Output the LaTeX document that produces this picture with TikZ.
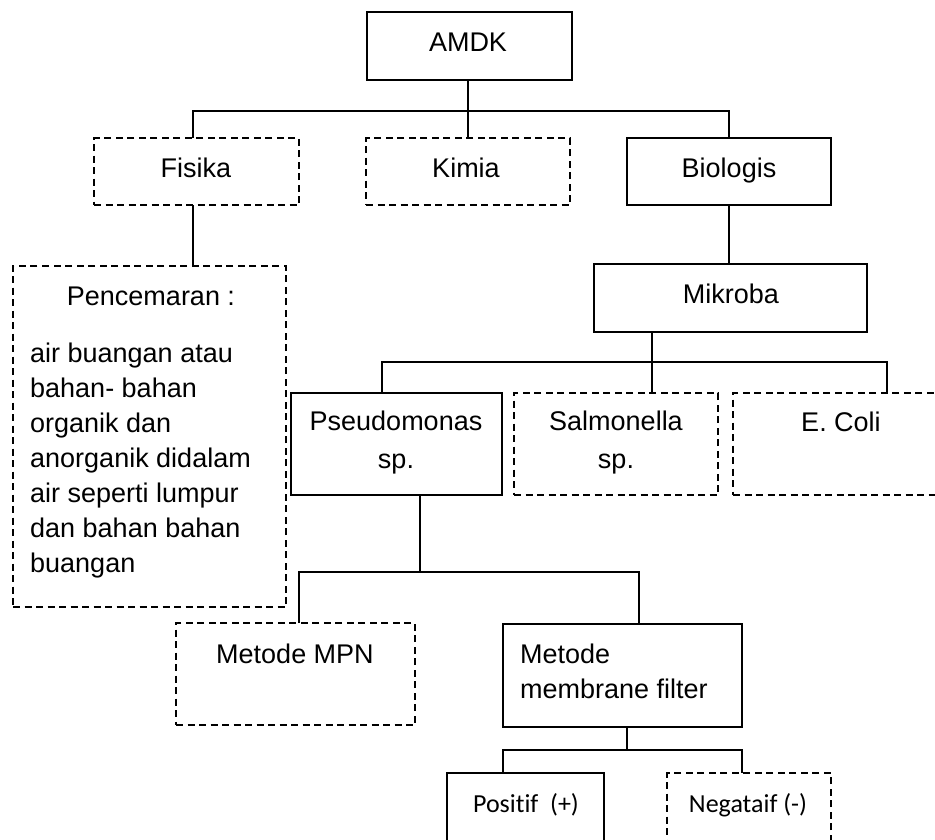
\documentclass[tikz,border=0pt]{standalone}
\usepackage{fontspec}
\setmainfont[Ligatures=NoCommon]{Liberation Sans}
\newfontfamily\calibrifont[Ligatures=NoCommon]{Carlito}
\begin{document}
\begin{tikzpicture}[x=1pt,y=-1pt,
  box/.style={draw, line width=1.5pt, rectangle, inner sep=0pt, outer sep=0pt, anchor=north west},
  dashbox/.style={box, dash pattern=on 7pt off 4.5pt},
  link/.style={draw, line width=1.5pt},
  txt/.style={anchor=base, inner sep=0pt, font=\fontsize{27}{35}\selectfont},
  txtl/.style={anchor=base west, inner sep=0pt, font=\fontsize{27}{35}\selectfont},
  ctxt/.style={anchor=base, inner sep=0pt, font=\calibrifont\fontsize{26}{32}\selectfont}]
\useasboundingbox (0,0) rectangle (935,839);
\clip (0,0) rectangle (935,839);

% boxes
\node[box, minimum width=205, minimum height=68] (amdk) at (367,12) {};
\node[dashbox, minimum width=205, minimum height=67] (fisika) at (94,138) {};
\node[dashbox, minimum width=204, minimum height=67] (kimia) at (366,138) {};
\node[box, minimum width=204, minimum height=67] (biologis) at (627,138) {};
\node[box, minimum width=273, minimum height=68] (mikroba) at (594,264) {};
\node[dashbox, minimum width=273, minimum height=341] (pencemaran) at (13,266) {};
\node[box, minimum width=211, minimum height=102] (pseudo) at (291,393) {};
\node[dashbox, minimum width=204, minimum height=102] (salmonella) at (514,393) {};
\node[dashbox, minimum width=216, minimum height=102] (ecoli) at (733,393) {};
\node[dashbox, minimum width=239, minimum height=102] (mpn) at (176,623) {};
\node[box, minimum width=239, minimum height=103] (membrane) at (503,624) {};
\node[box, minimum width=157, minimum height=100] (positif) at (447,773) {};
\node[dashbox, minimum width=164, minimum height=100] (negatif) at (667,773) {};

% labels
\node[txt] (tamdk) at (468,51) {AMDK};
\node[txt] (tfisika) at (196,177) {Fisika};
\node[txt] (tkimia) at (466,177) {Kimia};
\node[txt] (tbiologis) at (729,177) {Biologis};
\node[txt] (tmikroba) at (731,303) {Mikroba};
\node[txt] (tpencemaran) at (151,305) {Pencemaran :};
\node[txtl] (tdesc) at (30,362) {\begin{tabular}[t]{@{}l@{}}air buangan atau\\bahan- bahan\\organik dan\\anorganik didalam\\air seperti lumpur\\dan bahan bahan\\buangan\end{tabular}};
\node[txt, font=\fontsize{27}{38}\selectfont] (tpseudo) at (396,430) {\begin{tabular}[t]{@{}c@{}}Pseudomonas\\sp.\end{tabular}};
\node[txt, font=\fontsize{27}{38}\selectfont] (tsalmonella) at (616,430) {\begin{tabular}[t]{@{}c@{}}Salmonella\\sp.\end{tabular}};
\node[txt] (tecoli) at (841,431) {E. Coli};
\node[txt] (tmpn) at (295,663) {Metode MPN};
\node[txtl] (tmembrane) at (520,663) {\begin{tabular}[t]{@{}l@{}}Metode\\membrane filter\end{tabular}};
\node[ctxt] (tpositif) at (526,812) {Positif\ \ (+)};
\node[ctxt] (tnegatif) at (748,812) {Negataif (-)};

% bus lines
\coordinate (bus1) at (0,111);
\coordinate (bus2) at (0,362);
\coordinate (bus3) at (0,572);
\coordinate (bus4) at (0,750);

% AMDK level
\draw[link] ([xshift=-1.5]amdk.south) -- ([xshift=-1.5]amdk.south |- kimia.north);
\draw[link] ([xshift=-3.5]fisika.north) |- (bus1 -| biologis.north) -- (biologis.north);
\draw[link] ([xshift=-3.5]fisika.south) -- ([xshift=-3.5]fisika.south |- pencemaran.north);
\draw[link] (biologis.south) -- (biologis.south |- mikroba.north);

% Mikroba level
\coordinate (ecin) at ([xshift=46]ecoli.north);
\draw[link] ([xshift=-78.5]mikroba.south) -- ([xshift=-78.5]mikroba.south |- salmonella.north);
\draw[link] ([xshift=-14.5]pseudo.north) |- (bus2 -| ecin) -- (ecin);

% Pseudomonas level
\coordinate (mbin) at ([xshift=16.5]membrane.north);
\draw[link] ([xshift=23.5]pseudo.south) -- ([xshift=23.5]pseudo.south |- bus3);
\draw[link] ([xshift=3.5]mpn.north) |- (bus3 -| mbin) -- (mbin);

% Membrane filter level
\coordinate (ngin) at ([xshift=-7]negatif.north);
\draw[link] ([xshift=4.5]membrane.south) -- ([xshift=4.5]membrane.south |- bus4);
\draw[link] ([xshift=-22.5]positif.north) |- (bus4 -| ngin) -- (ngin);
\end{tikzpicture}
\end{document}
